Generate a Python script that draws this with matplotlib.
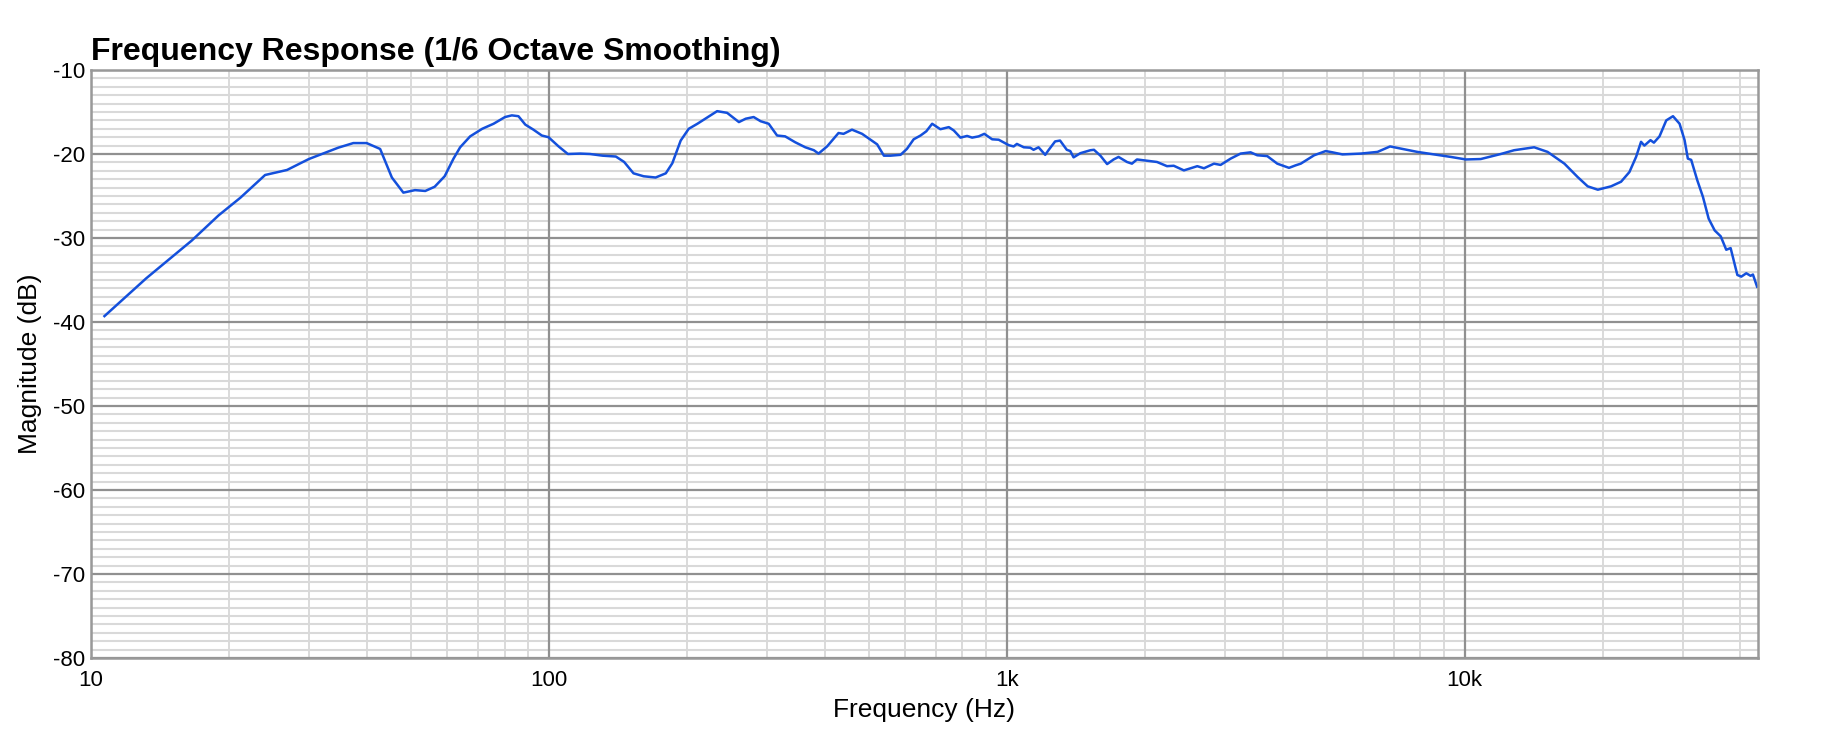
import matplotlib
matplotlib.use("Agg")
import matplotlib.pyplot as plt
from matplotlib.ticker import FixedLocator, MultipleLocator, LogLocator, NullFormatter

plt.rcParams['font.family'] = ['Liberation Sans', 'DejaVu Sans']
plt.rcParams['axes.unicode_minus'] = False

# frequency response (Hz, dB)
freq = [10.7, 13.2, 16.6, 19.0, 21.2, 24.0, 26.8, 29.9, 34.7, 37.4,
        40.0, 42.8, 45.4, 48.1, 51.0, 53.7, 56.3, 59.2, 61.9, 64.0,
        67.3, 71.5, 75.7, 80.2, 83.0, 85.8, 88.8, 92.5, 96.5, 99.8,
        105, 110, 117, 123, 131, 140, 146, 153, 161, 171,
        180, 186, 194, 202, 211, 221, 233, 245, 260, 269,
        280, 290, 302, 315, 328, 345, 363, 379, 388, 405,
        429, 440, 459, 483, 504, 521, 539, 557, 586, 605,
        626, 648, 667, 687, 716, 747, 766, 792, 819, 840,
        868, 893, 929, 960, 1010, 1035, 1052, 1089, 1125, 1144,
        1173, 1213, 1233, 1275, 1307, 1352, 1376, 1399, 1448, 1523,
        1550, 1601, 1656, 1711, 1754, 1830, 1876, 1924, 2024, 2128,
        2238, 2315, 2436, 2606, 2695, 2834, 2930, 3082, 3240, 3407,
        3523, 3705, 3896, 4133, 4273, 4385, 4690, 4970, 5143, 5408,
        5932, 6450, 6870, 7250, 7880, 8570, 9330, 10060, 10840, 11990,
        12820, 14180, 15170, 16510, 17650, 18560, 19530, 20870, 21950, 22890,
        23670, 24270, 24680, 25450, 25890, 26630, 27550, 28500, 29460, 30210,
        30710, 31230, 32190, 33130, 34100, 35150, 36230, 37250, 38080, 39390,
        40180, 41200, 42100, 42600, 43500]
mag = [-39.3, -34.8, -30.3, -27.3, -25.2, -22.5, -21.9, -20.6, -19.24, -18.7,
       -18.7, -19.4, -22.8, -24.6, -24.3, -24.4, -23.9, -22.65, -20.55, -19.2,
       -17.9, -17.0, -16.4, -15.6, -15.4, -15.5, -16.5, -17.1, -17.8, -18.0,
       -19.1, -20.0, -19.95, -20.0, -20.2, -20.3, -20.95, -22.3, -22.65, -22.8,
       -22.3, -21.1, -18.4, -17.0, -16.4, -15.7, -14.9, -15.1, -16.2, -15.8,
       -15.6, -16.1, -16.4, -17.8, -17.9, -18.6, -19.2, -19.55, -19.95, -19.1,
       -17.5, -17.6, -17.1, -17.6, -18.3, -18.85, -20.2, -20.2, -20.1, -19.4,
       -18.25, -17.8, -17.3, -16.4, -17.05, -16.8, -17.2, -18.05, -17.85, -18.05,
       -17.9, -17.6, -18.25, -18.3, -18.95, -19.1, -18.8, -19.2, -19.25, -19.5,
       -19.2, -20.1, -19.55, -18.5, -18.4, -19.5, -19.65, -20.4, -19.9, -19.55,
       -19.5, -20.2, -21.2, -20.65, -20.35, -20.95, -21.15, -20.65, -20.8, -20.95,
       -21.45, -21.4, -21.95, -21.45, -21.7, -21.15, -21.3, -20.55, -19.95, -19.8,
       -20.15, -20.25, -21.15, -21.65, -21.35, -21.15, -20.15, -19.65, -19.8, -20.05,
       -19.95, -19.75, -19.1, -19.35, -19.75, -20.05, -20.35, -20.65, -20.6, -20.0,
       -19.55, -19.2, -19.75, -21.15, -22.75, -23.85, -24.25, -23.85, -23.3, -22.15,
       -20.35, -18.55, -19.0, -18.35, -18.65, -17.9, -16.0, -15.5, -16.4, -18.35,
       -20.55, -20.7, -23.1, -25.1, -27.7, -29.1, -29.8, -31.4, -31.2, -34.4,
       -34.6, -34.2, -34.5, -34.35, -35.8]

x_ticks = [10, 100, 1000, 10000]
x_labels = ['10', '100', '1k', '10k']
y_ticks = [-80, -70, -60, -50, -40, -30, -20, -10]

W, H = 1823, 735
fig = plt.figure(figsize=(W / 100, H / 100), dpi=100)
ax = fig.add_axes([91 / W, 1 - 658 / H, (1758 - 91) / W, (658 - 70) / H])

ax.plot(freq, mag, color='#1450dc', linewidth=1.8, zorder=3)

ax.set_xscale('log')
ax.set_xlim(10, 43700)
ax.set_ylim(-80, -10)

ax.xaxis.set_major_locator(FixedLocator(x_ticks))
ax.set_xticklabels(x_labels)
ax.xaxis.set_minor_locator(LogLocator(base=10, subs=[2, 3, 4, 5, 6, 7, 8, 9], numticks=20))
ax.xaxis.set_minor_formatter(NullFormatter())
ax.set_yticks(y_ticks)
ax.yaxis.set_minor_locator(MultipleLocator(1))

# light minor grid underneath, darker decade / 10 dB lines on top of it
ax.grid(True, which='minor', axis='y', color='#d9d9d9', linewidth=1.5)
ax.grid(True, which='minor', axis='x', color='#d4d4d4', linewidth=1.2)
ax.set_axisbelow(True)
for t in x_ticks:
    ax.axvline(t, color='#909090', linewidth=1.6, zorder=1)
for t in y_ticks:
    ax.axhline(t, color='#909090', linewidth=1.6, zorder=1)

ax.tick_params(which='both', length=0, labelsize=16, colors='black')
ax.tick_params(axis='x', pad=9)
ax.tick_params(axis='y', pad=4)
for s in ax.spines.values():
    s.set_color('#999999')
    s.set_linewidth(1.8)
    s.set_zorder(4)

ax.set_xlabel('Frequency (Hz)', fontsize=19, labelpad=5)
ax.set_ylabel('Magnitude (dB)', fontsize=19, labelpad=8)
ax.set_title('Frequency Response (1/6 Octave Smoothing)', loc='left',
             fontsize=23, fontweight='bold', pad=7)

fig.savefig('out.png', dpi=100, facecolor='white')
